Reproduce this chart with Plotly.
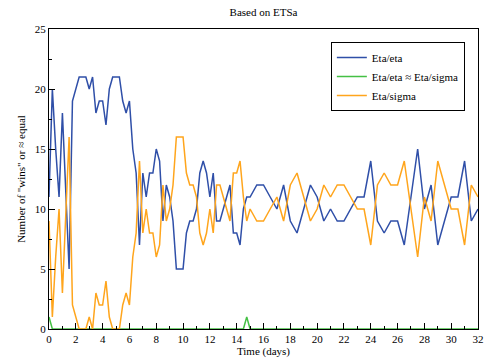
import plotly.graph_objects as go

# Time points (days): quarter-day samples up to day 15, half-day samples after
time_days = [i * 0.25 for i in range(61)] + [15.5 + i * 0.5 for i in range(34)]

eta_eta = [11, 20, 15, 11, 18, 11, 5, 19, 20, 21,
           21, 21, 20, 21, 18, 19, 19, 17, 20, 21,
           21, 21, 19, 18, 19, 15, 13, 7, 13, 11,
           13, 13, 15, 14, 9, 12, 11, 9, 5, 5,
           5, 8, 9, 9, 10, 13, 14, 13, 11, 13,
           9, 9, 10, 11, 12, 8, 8, 7, 10, 11,
           11,
           12, 12, 11, 10, 12, 9, 8, 10, 12, 11,
           9, 10, 9, 9, 10, 11, 11, 14, 9, 8,
           9, 9, 7, 11, 15, 10, 12, 7, 9, 11,
           11, 14, 9, 10]

eta_sigma = [9, 1, 6, 10, 3, 10, 16, 2, 1, 0,
             0, 0, 1, 0, 3, 2, 2, 4, 1, 0,
             0, 0, 2, 3, 2, 6, 8, 14, 8, 10,
             8, 8, 6, 7, 12, 9, 10, 12, 16, 16,
             16, 13, 12, 12, 11, 8, 7, 8, 10, 8,
             12, 12, 11, 10, 9, 13, 13, 14, 11, 9,
             10,
             9, 9, 10, 11, 9, 12, 13, 11, 9, 10,
             12, 11, 12, 12, 11, 10, 10, 7, 12, 13,
             12, 12, 14, 10, 6, 11, 9, 14, 12, 10,
             10, 7, 12, 11]

equal = [1, 0, 0, 0, 0, 0, 0, 0, 0, 0,
         0, 0, 0, 0, 0, 0, 0, 0, 0, 0,
         0, 0, 0, 0, 0, 0, 0, 0, 0, 0,
         0, 0, 0, 0, 0, 0, 0, 0, 0, 0,
         0, 0, 0, 0, 0, 0, 0, 0, 0, 0,
         0, 0, 0, 0, 0, 0, 0, 0, 0, 1,
         0,
         0, 0, 0, 0, 0, 0, 0, 0, 0, 0,
         0, 0, 0, 0, 0, 0, 0, 0, 0, 0,
         0, 0, 0, 0, 0, 0, 0, 0, 0, 0,
         0, 0, 0, 0]

FONT = "Liberation Serif"

fig = go.Figure()
fig.add_trace(go.Scatter(x=time_days, y=eta_eta, mode="lines", name="Eta/eta",
                         line=dict(color="#2f4fa8", width=1.5)))
fig.add_trace(go.Scatter(x=time_days, y=equal, mode="lines", name="Eta/eta ≈ Eta/sigma",
                         line=dict(color="#44c044", width=1.5)))
fig.add_trace(go.Scatter(x=time_days, y=eta_sigma, mode="lines", name="Eta/sigma",
                         line=dict(color="#ffa51c", width=1.5)))

fig.update_layout(
    width=489, height=362,
    margin=dict(l=49, r=11, t=29, b=33, autoexpand=False),
    paper_bgcolor="white", plot_bgcolor="white",
    font=dict(family=FONT, size=11, color="black"),
    title=dict(text="Based on ETSa", x=0.5, xref="paper", xanchor="center",
               y=1 - 12 / 362, yref="container", yanchor="middle",
               font=dict(family=FONT, size=11, color="black")),
    showlegend=True,
    legend=dict(x=0.657, y=0.957, xanchor="left", yanchor="top",
                bordercolor="black", borderwidth=1, bgcolor="white",
                font=dict(family=FONT, size=11, color="black"),
                tracegroupgap=0, itemwidth=30),
)

fig.update_xaxes(range=[0, 32], dtick=2, tick0=0, showgrid=False, zeroline=False,
                 showline=True, linecolor="black", linewidth=1, mirror=True,
                 automargin=False,
                 ticks="inside", ticklen=6, tickcolor="black", tickwidth=1,
                 minor=dict(dtick=1, ticks="inside", ticklen=3, tickcolor="black", showgrid=False),
                 tickfont=dict(family=FONT, size=11, color="black"),
                 title=dict(text="Time (days)", standoff=2,
                            font=dict(family=FONT, size=11, color="black")))
fig.update_yaxes(range=[0, 25], dtick=5, tick0=0, showgrid=False, zeroline=False,
                 showline=True, linecolor="black", linewidth=1, mirror=True,
                 automargin=False,
                 ticks="inside", ticklen=6, tickcolor="black", tickwidth=1,
                 minor=dict(dtick=2.5, ticks="inside", ticklen=3, tickcolor="black", showgrid=False),
                 tickfont=dict(family=FONT, size=11, color="black"),
                 title=dict(text='Number of "wins" or ≈ equal', standoff=6,
                            font=dict(family=FONT, size=11, color="black")))

fig.write_html("out.html")
